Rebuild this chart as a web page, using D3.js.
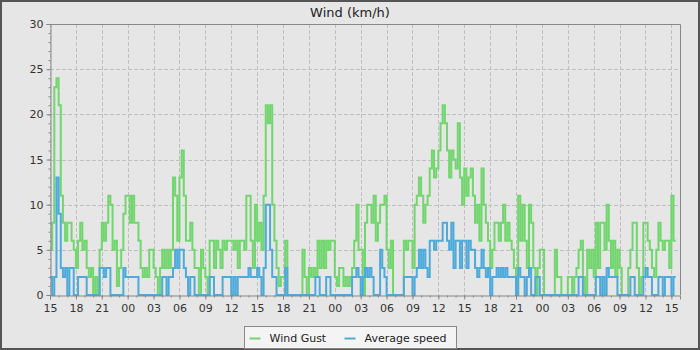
<!DOCTYPE html>
<html>
<head>
<meta charset="utf-8">
<script src="https://cdn.jsdelivr.net/npm/d3@7/dist/d3.min.js"></script>
<style>
body { margin: 0; background: #e6e6e6; }
svg { display: block; font-family: "DejaVu Sans", sans-serif; }
</style>
</head>
<body>
<svg width="700" height="350"></svg>
<script>
// one reading every 15 minutes, starting at 15:00
var startTime = new Date(2020, 5, 1, 15, 0);
var stepMinutes = 15;
var hoursShown = 73;

var windGust = [
  5, 8, 23, 24, 21, 11, 8, 6, 8, 8, 6, 5,
  3, 6, 8, 5, 6, 3, 2, 3, 0, 2, 0, 5,
  8, 6, 8, 11, 10, 5, 6, 1, 3, 5, 9, 11,
  11, 8, 11, 8, 8, 6, 3, 2, 3, 2, 5, 5,
  3, 2, 0, 3, 5, 3, 5, 3, 5, 13, 11, 6,
  13, 16, 11, 6, 6, 8, 5, 3, 3, 0, 5, 3,
  2, 0, 6, 6, 3, 6, 5, 3, 6, 5, 6, 6,
  6, 5, 6, 3, 6, 6, 5, 11, 11, 6, 3, 10,
  6, 8, 5, 11, 21, 19, 21, 10, 6, 3, 1, 2,
  2, 6, 0, 0, 0, 0, 0, 0, 0, 5, 2, 0,
  3, 2, 3, 2, 6, 3, 6, 3, 6, 5, 6, 6,
  2, 1, 3, 3, 1, 2, 1, 2, 3, 6, 10, 5,
  5, 0, 8, 10, 10, 8, 11, 6, 8, 10, 10, 11,
  5, 3, 6, 0, 0, 0, 0, 0, 6, 5, 6, 6,
  3, 10, 11, 13, 11, 8, 10, 11, 14, 16, 13, 14,
  16, 19, 21, 19, 16, 13, 16, 15, 14, 19, 13, 10,
  14, 11, 13, 14, 11, 8, 10, 6, 14, 10, 8, 6,
  3, 5, 8, 8, 6, 8, 10, 6, 8, 6, 5, 3,
  0, 11, 6, 10, 6, 3, 10, 8, 3, 0, 3, 5,
  5, 0, 0, 0, 0, 0, 5, 2, 2, 0, 0, 0,
  2, 2, 0, 2, 3, 5, 6, 2, 0, 5, 3, 5,
  2, 8, 3, 8, 8, 5, 10, 6, 3, 6, 2, 5,
  3, 0, 0, 0, 3, 5, 8, 8, 3, 0, 2, 8,
  8, 6, 5, 3, 2, 5, 8, 6, 5, 6, 6, 3,
  11, 6
];

var avgSpeed = [
  2, 0, 2, 13, 9, 3, 2, 3, 0, 3, 3, 0,
  0, 2, 2, 2, 2, 0, 0, 0, 0, 0, 0, 3,
  3, 2, 3, 3, 0, 0, 0, 0, 0, 0, 3, 2,
  2, 2, 2, 2, 2, 0, 0, 0, 0, 0, 0, 0,
  0, 0, 0, 0, 2, 2, 0, 2, 2, 3, 5, 3,
  5, 5, 3, 2, 0, 2, 2, 0, 0, 0, 0, 0,
  0, 0, 2, 2, 0, 0, 0, 0, 2, 2, 2, 2,
  0, 2, 0, 2, 2, 2, 2, 2, 3, 2, 2, 2,
  3, 2, 0, 3, 10, 10, 5, 2, 2, 0, 0, 0,
  0, 3, 0, 0, 0, 0, 0, 0, 0, 0, 0, 0,
  0, 0, 0, 2, 2, 0, 0, 0, 2, 2, 0, 0,
  0, 0, 0, 0, 0, 0, 0, 0, 2, 2, 3, 2,
  0, 2, 3, 2, 3, 2, 0, 0, 0, 5, 3, 2,
  0, 0, 0, 0, 0, 0, 0, 0, 2, 2, 2, 2,
  0, 2, 3, 5, 3, 5, 3, 2, 6, 6, 5, 6,
  6, 6, 8, 8, 6, 5, 8, 3, 6, 6, 3, 6,
  6, 3, 6, 5, 5, 3, 2, 3, 5, 3, 2, 3,
  0, 2, 2, 3, 2, 3, 2, 3, 2, 2, 2, 2,
  0, 3, 2, 2, 0, 2, 3, 0, 0, 2, 2, 0,
  0, 0, 0, 0, 0, 0, 0, 0, 0, 0, 0, 0,
  0, 0, 0, 0, 0, 2, 2, 0, 0, 0, 0, 0,
  0, 2, 2, 0, 2, 0, 3, 2, 2, 2, 2, 0,
  0, 0, 0, 0, 0, 2, 2, 0, 0, 0, 0, 2,
  3, 2, 2, 0, 0, 0, 2, 2, 0, 2, 2, 2,
  0, 2
];

var yTicks = [0, 5, 10, 15, 20, 25, 30];
var seriesNames = ["Wind Gust", "Average speed"];
var seriesColors = ["#72d66e", "#4eaadb"];

var svg = d3.select("svg"),
    margin = {top: 24, right: 20, bottom: 55, left: 50},
    width = +svg.attr("width") - margin.left - margin.right,
    height = +svg.attr("height") - margin.top - margin.bottom;

// outer frame
svg.append("rect")
  .attr("x", 1).attr("y", 1)
  .attr("width", 698).attr("height", 348)
  .attr("fill", "#e6e6e6")
  .attr("stroke", "#555").attr("stroke-width", 2);

var endTime = d3.timeHour.offset(startTime, hoursShown);
var x = d3.scaleTime().domain([startTime, endTime]).range([0, width]);
var y = d3.scaleLinear().domain([0, 30]).range([height, 0]);

function toPoints(values) {
  var pts = values.map(function(v, i) {
    return {t: d3.timeMinute.offset(startTime, i * stepMinutes), v: v};
  });
  // keep the last reading visible for its own interval
  pts.push({t: d3.timeMinute.offset(startTime, values.length * stepMinutes), v: values[values.length - 1]});
  return pts;
}

var g = svg.append("g")
  .attr("transform", "translate(" + margin.left + "," + margin.top + ")");

g.append("rect")
  .attr("width", width).attr("height", height)
  .attr("fill", "#e6e6e6");

svg.append("defs").append("clipPath").attr("id", "plotclip")
  .append("rect").attr("x", 0).attr("y", -2).attr("width", width).attr("height", height + 3);

// grid
var majorX = x.ticks(d3.timeHour.every(3));
g.selectAll(".vgrid").data(majorX).enter().append("line")
  .attr("x1", function(d) { return Math.round(x(d)) + 0.5; })
  .attr("x2", function(d) { return Math.round(x(d)) + 0.5; })
  .attr("y1", 0).attr("y2", height)
  .attr("stroke", "#c0c0c0").attr("stroke-dasharray", "4,2");

g.selectAll(".hgrid").data(yTicks.slice(1, -1)).enter().append("line")
  .attr("x1", 0).attr("x2", width)
  .attr("y1", function(d) { return Math.round(y(d)) + 0.5; })
  .attr("y2", function(d) { return Math.round(y(d)) + 0.5; })
  .attr("stroke", "#c0c0c0").attr("stroke-dasharray", "4,2");

// series, gust first so the average speed sits on top
var line = d3.line()
  .x(function(d) { return x(d.t); })
  .y(function(d) { return y(d.v); })
  .curve(d3.curveStepAfter);

var lines = g.append("g").attr("clip-path", "url(#plotclip)");
[windGust, avgSpeed].forEach(function(vals, i) {
  lines.append("path")
    .datum(toPoints(vals))
    .attr("d", line)
    .attr("fill", "none")
    .attr("stroke", seriesColors[i])
    .attr("stroke-width", 2)
    .attr("stroke-linejoin", "miter");
});

// plot border top / right
g.append("path")
  .attr("d", "M0.5,0.5H" + (width + 0.5) + "V" + height)
  .attr("fill", "none").attr("stroke", "#888");

// y axis
var yAxis = g.append("g").attr("transform", "translate(0.5,0)")
  .call(d3.axisLeft(y).tickValues(yTicks).tickSize(4).tickPadding(3));
g.append("g").attr("transform", "translate(0.5,0)")
  .call(d3.axisLeft(y).tickValues(d3.range(0, 31)).tickSize(2).tickFormat(""))
  .select(".domain").remove();

// x axis
var xAxis = g.append("g").attr("transform", "translate(0," + (height + 0.5) + ")")
  .call(d3.axisBottom(x).ticks(d3.timeHour.every(3)).tickFormat(d3.timeFormat("%H")).tickSize(4).tickPadding(5));
g.append("g").attr("transform", "translate(0," + (height + 0.5) + ")")
  .call(d3.axisBottom(x).ticks(d3.timeHour.every(1)).tickSize(2).tickFormat(""))
  .select(".domain").remove();

g.selectAll(".domain").attr("stroke", "#888");
g.selectAll(".tick line").attr("stroke", "#888");
g.selectAll(".tick text").attr("fill", "#333").style("font-size", "11px").style("font-family", "DejaVu Sans");

// title
svg.append("text")
  .attr("x", 350).attr("y", 17)
  .attr("text-anchor", "middle")
  .style("font-size", "13px")
  .attr("fill", "#222")
  .text("Wind (km/h)");

// legend
var legend = svg.append("g").attr("transform", "translate(244.5,326.5)");
legend.append("rect")
  .attr("width", 212).attr("height", 22)
  .attr("fill", "#f4f4f4").attr("stroke", "#888");

var legendX = [5, 100];
seriesNames.forEach(function(name, i) {
  legend.append("line")
    .attr("x1", legendX[i]).attr("x2", legendX[i] + 11)
    .attr("y1", 12).attr("y2", 12)
    .attr("stroke", seriesColors[i]).attr("stroke-width", 2);
  legend.append("text")
    .attr("x", legendX[i] + 20).attr("y", 15)
    .style("font-size", "11px")
    .attr("fill", "#222")
    .text(name);
});
</script>
</body>
</html>
